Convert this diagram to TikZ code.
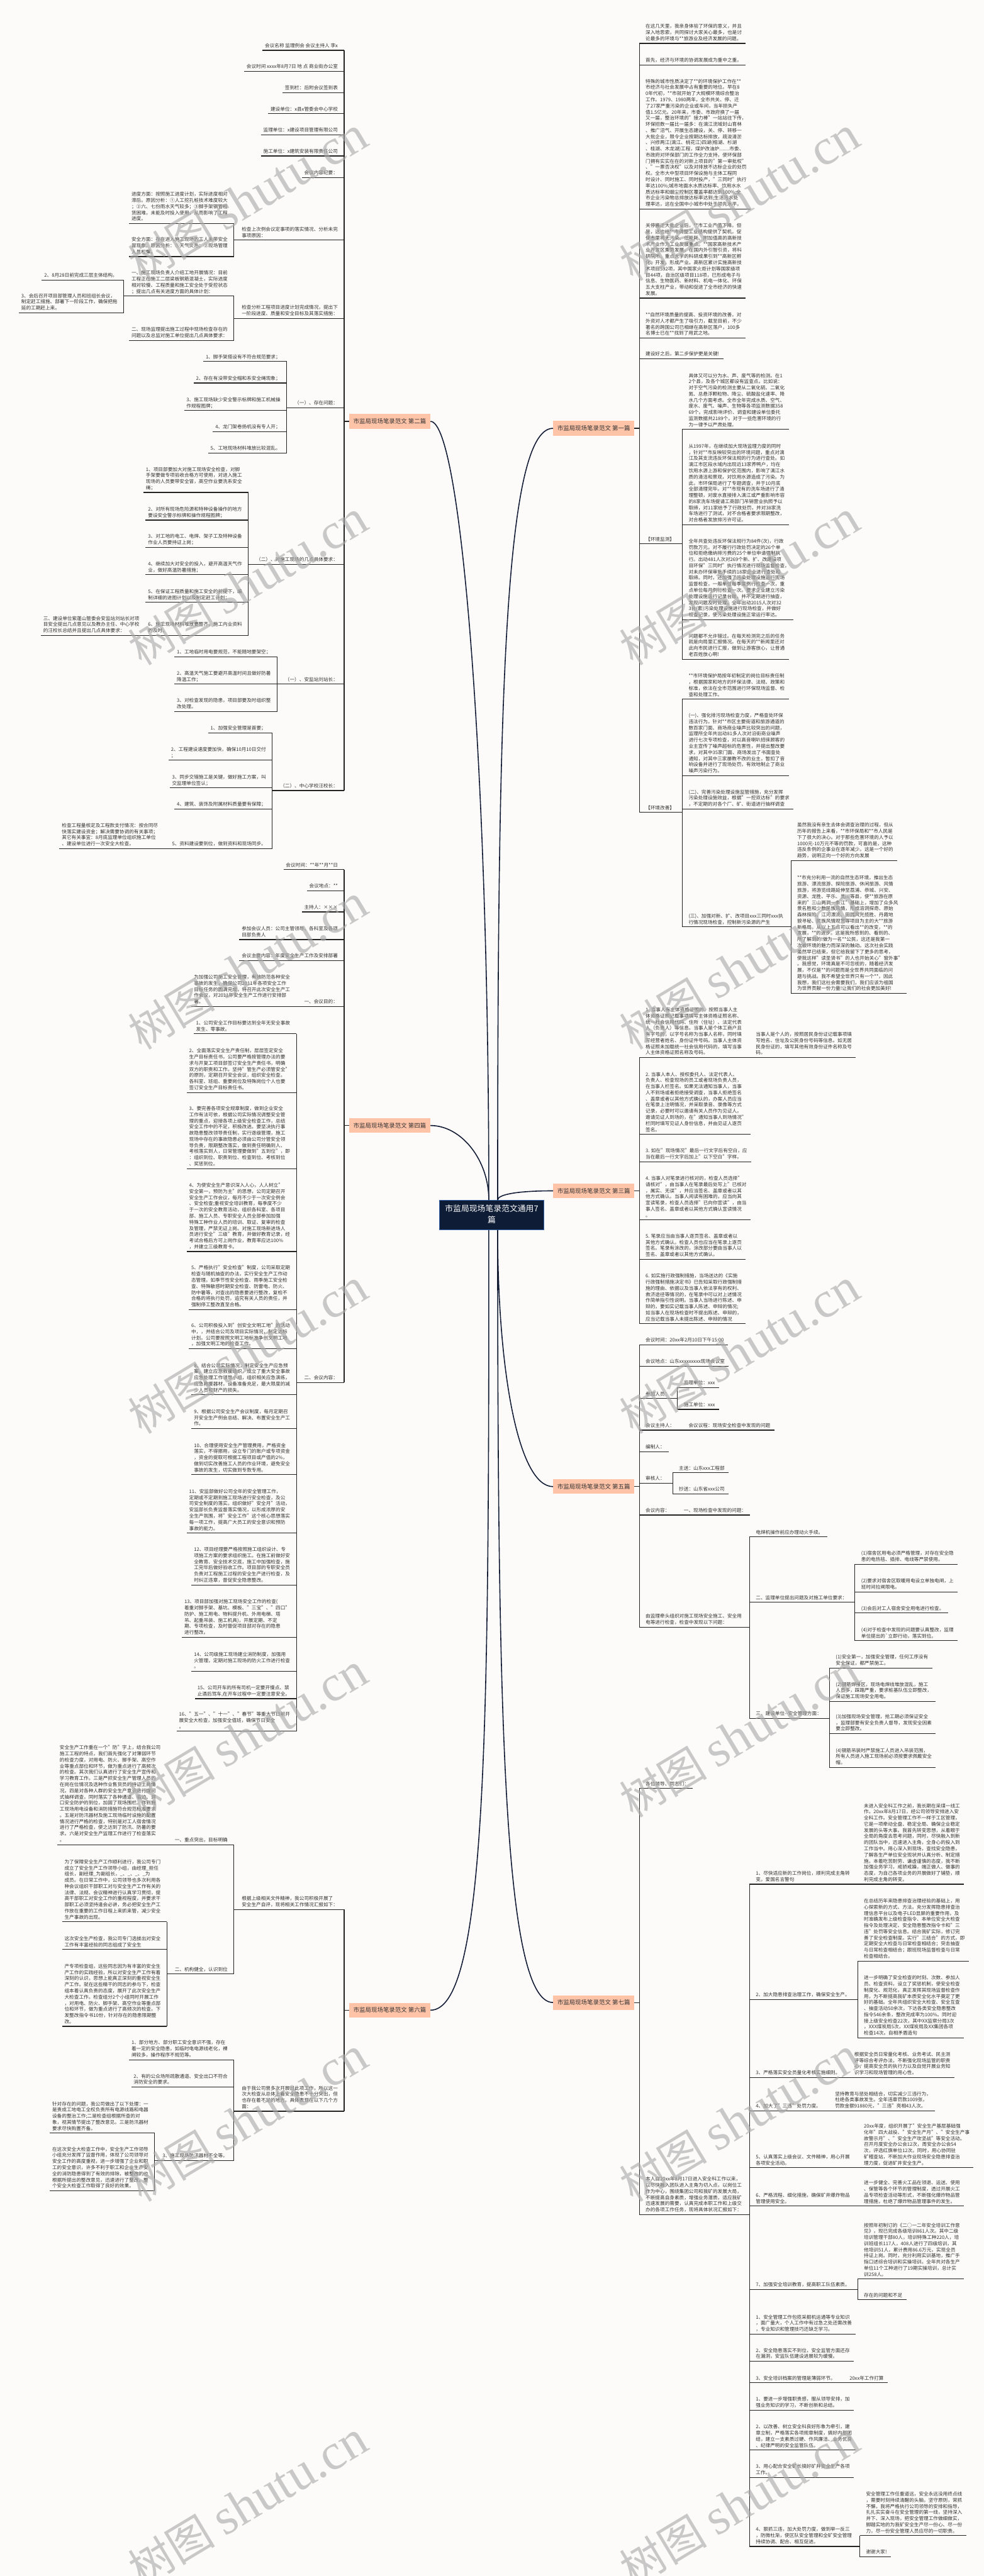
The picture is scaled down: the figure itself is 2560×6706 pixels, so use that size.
\documentclass[tikz,border=0pt]{standalone}
\usepackage{fontspec}
\setmainfont{Noto Sans CJK SC}
\newfontfamily\wmlatin{Liberation Serif}
\definecolor{bg}{RGB}{253,251,250}
\definecolor{ln}{RGB}{34,34,34}
\definecolor{txt}{RGB}{48,48,48}
\definecolor{peach}{RGB}{255,196,168}
\definecolor{brtxt}{RGB}{51,51,51}
\definecolor{cfill}{RGB}{14,28,54}
\definecolor{cborder}{RGB}{59,106,178}
\definecolor{cvc}{RGB}{18,28,52}
\definecolor{wmc}{RGB}{170,170,170}
\newcommand\mlt[1]{\begin{tabular}[b]{@{}l@{}}#1\end{tabular}}
\begin{document}
\begin{tikzpicture}[x=0.5pt,y=-0.5pt,
  ul/.style={draw=ln,line width=0.9pt},
  conn/.style={draw=ln,line width=0.9pt},
  lf/.style={font=\fontsize{6.25pt}{8pt}\selectfont,text=txt,inner xsep=0pt,inner ysep=1.2pt,
    append after command={(\tikzlastnode.south west) edge[ul] (\tikzlastnode.south east)}},
  lnode/.style={lf,anchor=south east,execute at begin node={\hspace*{3pt}},execute at end node={\hspace*{8pt}}},
  lpar/.style={lnode,execute at begin node={\hspace*{7pt}}},
  rnode/.style={lf,anchor=south west,execute at begin node={\hspace*{8pt}},execute at end node={\hspace*{5pt}}},
  rpar/.style={rnode,execute at end node={\hspace*{5pt}}},
  br/.style={fill=peach,text=brtxt,font=\fontsize{7.75pt}{9pt}\selectfont,minimum width=105.5pt,minimum height=19pt,inner sep=0pt},
  cen/.style={fill=cfill,draw=cborder,line width=1pt,text=white,font=\fontsize{10.5pt}{14.5pt}\selectfont,minimum width=135.5pt,minimum height=38pt,inner sep=0pt},
  cv/.style={draw=cvc,line width=1.3pt},
  wm/.style={text=wmc,rotate=31,opacity=0.62,inner sep=0pt}
]
\fill[bg] (0,0) rectangle (2560,6706);
\useasboundingbox (0,0) rectangle (2560,6706);

% ---------------- central
\node[cen] (c) at (1279.5,3163) {\begin{tabular}{@{}c@{}}市监局现场笔录范文通用7\\篇\end{tabular}};
\coordinate (ctl) at ([xshift=-3.75pt]c.north);
\coordinate (ctr) at ([xshift=7.75pt]c.north);
\coordinate (cbl) at ([xshift=-3.75pt]c.south);
\coordinate (cbr) at ([xshift=7.75pt]c.south);

% ---------------- 第二篇 (left)
\node[br] (b2) at (1014.3,1097) {市监局现场笔录范文 第二篇};
\coordinate (j2) at (895.5,1097);
\draw[conn] (b2.west) -- (j2);
\node[lnode] (n2a) at (895.5,131) {\mlt{会议名称 监理例会 会议主持人 李x}};
\node[lnode] (n2b) at (895.5,186) {\mlt{会议时间 xxxx年8月7日 地 点 商业街办公室}};
\node[lnode] (n2c) at (895.5,241) {\mlt{签到栏：后附会议签到表}};
\node[lnode] (n2d) at (895.5,296) {\mlt{建设单位：x县x管委会中心学校}};
\node[lnode] (n2e) at (895.5,351) {\mlt{监理单位：x建设项目管理有限公司}};
\node[lnode] (n2f) at (895.5,406) {\mlt{施工单位：x建筑安装有限责任公司}};
\node[lnode] (n2g) at (895.5,462) {\mlt{会议内容纪要：}};
\node[lpar] (n2h) at (895.5,625) {\mlt{检查上次例会议定事项的落实情况、分析未完\\事项原因：}};
\node[lnode] (n2h1) at (n2h.south west |- 0,582) {\mlt{进度方面：按照施工进度计划，实际进度相对\\滞后。原因分析：①人工挖孔桩技术难度较大\\；②六、七份雨水天气较多；③脚手架钢管租\\赁困难，未能及时投入使用，从而影响了工程\\进度。}};
\node[lnode] (n2h2) at (n2h.south west |- 0,668) {\mlt{安全方面：存在进入施工现场的工人未带安全\\冒现象。原因分析：①天气炎热；②现场管理\\人员松懈。}};
\node[lpar] (n2i) at (895.5,829) {\mlt{检查分析工程项目进度计划完成情况，提出下\\一阶段进度、质量和安全目标及其落实措施：}};
\node[lpar] (n2i1) at (n2i.south west |- 0,771) {\mlt{一、施工现场负责人介绍工地开展情况：目前\\工程正在施工二层梁板钢筋混凝土，实际进度\\相对较慢、工程质量和施工安全处于受控状态\\；提出几点有关进度方面的具体计划：}};
\node[lnode] (n2i1a) at (n2i1.south west |- 0,729) {\mlt{2、8月28日前完成三层主体结构。}};
\node[lnode] (n2i1b) at (n2i1.south west |- 0,814) {\mlt{3、会后召开项目部管理人员和班组长会议，\\制定赶工措施、部署下一阶段工作，确保把拖\\延的工期赶上来。}};
\node[lnode] (n2i2) at (n2i.south west |- 0,886) {\mlt{二、现场监理提出施工过程中现场检查存在的\\问题以及总监对施工单位提出几点具体要求：}};
\node[lpar] (n2j) at (895.5,1061) {\mlt{（一）、存在问题：}};
\node[lnode] (n2j1) at (n2j.south west |- 0,941) {\mlt{1、脚手架搭设有不符合规范要求；}};
\node[lnode] (n2j2) at (n2j.south west |- 0,997) {\mlt{2、存在有没带安全帽和系安全绳现象；}};
\node[lnode] (n2j3) at (n2j.south west |- 0,1069) {\mlt{3、施工现场缺少安全警示标牌和施工机械操\\作规程图牌；}};
\node[lnode] (n2j4) at (n2j.south west |- 0,1124) {\mlt{4、龙门架卷扬机没有专人开；}};
\node[lnode] (n2j5) at (n2j.south west |- 0,1179) {\mlt{5、工地现场材料堆放比较混乱。}};
\node[lpar] (n2k) at (895.5,1469) {\mlt{（二）、对施工现场的几点具体要求：}};
\node[lnode] (n2k1) at (n2k.south west |- 0,1282) {\mlt{1、项目部要加大对施工现场安全检查，对脚\\手架要做专项验收合格方可使用，对进入施工\\现场的人员要带安全冒，高空作业要洗系安全\\绳；}};
\node[lnode] (n2k2) at (n2k.south west |- 0,1354) {\mlt{2、对所有现场危险源和特种设备操作的地方\\要设安全警示标牌和操作规程图牌；}};
\node[lnode] (n2k3) at (n2k.south west |- 0,1425) {\mlt{3、对工地的电工、电焊、架子工及特种设备\\作业人员要持证上岗；}};
\node[lnode] (n2k4) at (n2k.south west |- 0,1496) {\mlt{4、继续加大对安全的投入，避开高温天气作\\业，做好高温防暑措施；}};
\node[lnode] (n2k5) at (n2k.south west |- 0,1568) {\mlt{5、在保证工程质量和施工安全的前提下，编\\制详细的进图计划以及制定赶工计划；}};
\node[lnode] (n2k6) at (n2k.south west |- 0,1654) {\mlt{6、施工现场材料堆放要整齐，施工内业资料\\的及时。}};
\node[lnode] (n2k6a) at (n2k6.south west |- 0,1654) {\mlt{三、建设单位紫蓬山管委会安监站刘站长对项\\目安全提出几点意见以及教办主任、中心学校\\的汪校长总结并且提出几点具体要求：}};
\node[lpar] (n2l) at (895.5,1781) {\mlt{（一）、安监站刘站长：}};
\node[lnode] (n2l1) at (n2l.south west |- 0,1710) {\mlt{1、工地临时用电要规范，不能随地要架空；}};
\node[lnode] (n2l2) at (n2l.south west |- 0,1781) {\mlt{2、高温天气施工要避开高温时间且做好防暑\\降温工作；}};
\node[lnode] (n2l3) at (n2l.south west |- 0,1852) {\mlt{3、对检查发现的隐患，项目部要及时组织整\\改处理。}};
\node[lpar] (n2m) at (895.5,2058) {\mlt{（二）、中心学校汪校长：}};
\node[lnode] (n2m1) at (n2m.south west |- 0,1908) {\mlt{1、加强安全管理是首要；}};
\node[lnode] (n2m2) at (n2m.south west |- 0,1979) {\mlt{2、工程建设速度要加快，确保10月10日交付\\；}};
\node[lnode] (n2m3) at (n2m.south west |- 0,2051) {\mlt{3、同步交错施工是关键，做好施工方案，叫\\交监理单位签认；}};
\node[lnode] (n2m4) at (n2m.south west |- 0,2106) {\mlt{4、建筑、装饰及附属材料质量要有保障；}};
\node[lpar] (n2m5) at (n2m.south west |- 0,2209) {\mlt{5、资料建设要到位，做到资料和现场同步。}};
\node[lnode] (n2m5a) at (n2m5.south west |- 0,2209) {\mlt{检查工程量核定及工程款支付情况：按合同尽\\快落实建设资金；解决需要协调的有关事项；\\其它有关事宜：8月底监理单位组织施工单位\\、建设单位进行一次安全大检查。}};
\foreach \n in {n2a,n2b,n2c,n2d,n2e,n2f,n2g,n2h,n2i,n2j,n2k,n2l,n2m} \draw[conn] (j2) |- (\n.south east);
\foreach \p/\q in {n2h/n2h1,n2h/n2h2,n2i/n2i1,n2i/n2i2,n2i1/n2i1a,n2i1/n2i1b,n2j/n2j1,n2j/n2j2,n2j/n2j3,n2j/n2j4,n2j/n2j5,n2k/n2k1,n2k/n2k2,n2k/n2k3,n2k/n2k4,n2k/n2k5,n2k/n2k6,n2k6/n2k6a,n2l/n2l1,n2l/n2l2,n2l/n2l3,n2m/n2m1,n2m/n2m2,n2m/n2m3,n2m/n2m4,n2m/n2m5,n2m5/n2m5a} \draw[conn] (\p.south west) |- (\q.south east);

% ---------------- 第一篇 (right)
\node[br] (b1) at (1545,1115) {市监局现场笔录范文 第一篇};
\coordinate (j1) at (1663.7,1115);
\draw[conn] (b1.east) -- (j1);
\node[rnode] (n1a) at (1663.7,113) {\mlt{在这几天里，我亲身体验了环保的意义，并且\\深入地思索，共同探讨大家关心最多，也是讨\\论最多的环境与**旅游业及经济发展的问题。}};
\node[rnode] (n1b) at (1663.7,169) {\mlt{首先，经济与环境的协调发展成为重中之重。}};
\node[rnode] (n1c) at (1663.7,544) {\mlt{特殊的城市性质决定了**的环境保护工作在**\\市经济与社会发展中占有重要的地位。早在8\\0年代初，**市就开始了大规模环境综合整治\\工作。1979、1980两年，全市共关、停、迁\\了27家严重污染的企业或车间，当年损失产\\值1.5亿元。20年来，市委、市政府换了一届\\又一届，整治环境的"接力棒"一站站往下传，\\环保招数一届比一届多：在漓江流域封山育林\\、推广沼气、开展生态建设，关、停、转移一\\大批企业，限令企业按期达标排放，疏浚清淤\\、兴修两江(漓江、桃花江)四湖(榕湖、杉湖\\、桂湖、木龙湖)工程，煤炉改油炉……市委、\\市政府对环保部门的工作全力支持，使环保部\\门拥有实实在在的对新上项目的"第一审批权"\\、"一票否决权"以及对排放不达标企业的处罚\\权。全市大中型项目环保设施与主体工程同\\时设计、同时施工、同时投产，"三同时"执行\\率达100\%;城市地面水水质达标率、饮用水水\\质达标率和烟尘控制区覆盖率都达到100\%;全\\市企业污染物总排放达标率达到;生活污水处\\理率达，这在全国中小城市中处于领先水平。}};
\node[rnode] (n1d) at (1663.7,776) {\mlt{关停搬迁大批企业后，**市工业产值下降。但\\是，这也给**市调整工业结构提供了契机，促\\使市里将无污染、低能耗、附加值高的高新技\\术产业作为工业发展重点。**国家高新技术产\\业开发区乘势发展，在国内外引智引资，将科\\研院所、重点大学的科研成果引到**高新区孵\\化、开发，形成产业。高新区累计实施高新技\\术项目592项，其中国家火炬计划等国家级项\\目44项，自治区级项目118项，已形成电子与\\信息、生物医药、新材料、机电一体化、环保\\五大支柱产业，带动和促进了全市经济的快速\\发展。}};
\node[rnode] (n1e) at (1663.7,880) {\mlt{**自然环境质量的提高、投资环境的改善，对\\外资对人才都产生了吸引力，截至目前，不少\\著名的跨国公司已相继在高新区落户，100多\\名博士已在**找到了用武之地。}};
\node[rnode] (n1f) at (1663.7,934) {\mlt{建设好之后，第二步保护更是关键!}};
\node[rpar] (n1g) at (1663.7,1416) {\mlt{【环境监测】}};
\node[rnode] (n1g1) at (n1g.south east |- 0,1118) {\mlt{具体又可以分为水、声、废气等的检测。在1\\2个县，及各个城区都设有监查点。比如说：\\对于空气污染的检测主要从二氧化硫、二氧化\\氮、总悬浮颗粒物、降尘、硫酸盐化速率、降\\水几个方面考虑。全市全年完成水质、空气、\\废水、废气、噪声、生物等各项监测数据358\\69个。完成影响评价、调查和建设单位委托\\监测数据共2189个。对于一些危害环境的行\\为一律予以严肃处理。}};
\node[rnode] (n1g2) at (n1g.south east |- 0,1366) {\mlt{从1997年，在继续加大现场监理力度的同时\\，针对**市反映较突出的环境问题，重点对漓\\江及其支流违反环保法规的行为进行查处。如\\漓江市区段水域内出现近13家养鸭户，均在\\饮用水源上游和保护区范围内，影响了漓江水\\质的清洁和景观，对饮用水源造成了污染。为\\此，市环保局进行了专题调查，并于10月底\\全部清理完毕。对**市现有的洗车场进行了清\\理整顿，对废水直接排入漓江或严重影响市容\\的8家洗车场提请工商部门吊销营业执照予以\\取缔，对11家给予了行政处罚，并对38家洗\\车场进行了测试，对不合格者要求限期整改，\\对合格者发放排污许可证。}};
\node[rnode] (n1g3) at (n1g.south east |- 0,1613) {\mlt{全年共查处违反环保法规行为84件(次)，行政\\罚款万元。对不履行行政处罚决定的26个单\\位和拒绝缴纳排污费的25个单位申请强制执\\行。出动481人次对269个新、扩、改建设项\\目环保"三同时"执行情况进行现场监督检查，\\对未办环保审批手续的18家企业进行查处和\\取缔。同时，还加强了污染处理设施运行现场\\监督检查，一般单位每季度例行检查一次，重\\点单位每月例行检查一次。要求企业建立污染\\处理设施运行记录台账，并不定期进行抽查，\\发现问题及时处理。全年出动2015人次对32\\3台(套)污染处理设施进行现场检查，并做好\\检查记录，使污染处理设施正常运行率达。}};
\node[rnode] (n1g4) at (n1g.south east |- 0,1716) {\mlt{问题都不允许错过。在每天检测完之后的任务\\就是向局里汇报情况。在每天的**新闻里还对\\此向市民进行汇报，做到让游客放心，让普通\\老百姓放心啊!}};
\node[rpar] (n1h) at (1663.7,2115) {\mlt{【环境改善】}};
\node[rnode] (n1h1) at (n1h.south east |- 0,1820) {\mlt{**市环境保护局按年初制定的岗位目标责任制\\，根据国家和地方的环保法律、法规、政策和\\标准，依法在全市范围进行环保现场监督、检\\查和处理工作。}};
\node[rnode] (n1h2) at (n1h.south east |- 0,2019) {\mlt{(一)、强化排污现场检查力度，严格查处环保\\违法行为。针对**市区主要街道和旅游通道的\\数百家门面、商场商业噪声比较突出的问题，\\监理所全年共出动81多人次对沿街商业噪声\\进行七次专项检查，对以高音喇叭招徕顾客的\\业主宣传了噪声超标的危害性，并提出整改要\\求，对其中35家门面、商场发出了书面查处\\通知，对其中三家屡教不改的业主，暂扣了音\\响设备并进行了现场处罚，有效地制止了商业\\噪声污染行为。}};
\node[rnode] (n1h3) at (n1h.south east |- 0,2106) {\mlt{(二)、完善污染处理设施监管措施，充分发挥\\污染处理设施效益，根据"一控双达标"的要求\\，不定期的对各个厂、矿、街道进行抽样调查}};
\node[rpar] (n1h4) at (n1h.south east |- 0,2413) {\mlt{(三)、加强对新、扩、改项目xxx三同时xxx执\\行情况现场检查，控制新污染源的产生}};
\node[rnode] (n1h4a) at (n1h4.south east |- 0,2240) {\mlt{虽然我没有亲生去体会调查治理的过程，但从\\历年的报告上来看，**市环保局和**市人民是\\下了很大的决心。对于那些危害环境的人予以\\1000元-10万元不等的罚款，可喜的是，这种\\违反条例的企事业在逐年减少。这是一个好的\\趋势，说明正向一个好的方向发展}};
\node[rnode] (n1h4b) at (n1h4.south east |- 0,2586) {\mlt{**市充分利用一流的自然生态环境，推出生态\\旅游、漂流旅游、探险旅游、休闲旅游、风情\\旅游，将游览线路延伸至荔浦、恭城、兴安、\\资源、龙胜、平乐、灵川等县，使**旅游在原\\来的"三山两洞一条江"基础上，增加了众多风\\景名胜和少数民族风情，形成溶洞探奇、原始\\森林探险、江河漂流、田园风光揽胜、丹霞地\\貌寻秘、民族风情观赏等项目为主的大**旅游\\新格局。从以上五点可以看出**的改变，**的\\发展，**的进步。这是我所感到的、看到的、\\所了解到的!做为一名**公民，这还是我第一\\次被环境的魅力而深深的触动。这次社会实践\\虽然早已结束，但它给我留下了更多的思考，\\使我这样"读圣贤书"的人也开始关心"窗外事"\\。我感觉，环境真是不可忽视的，随着经济发\\展，不仅是**的问题而是全世界共同面临的问\\题与挑战。我不希望全世界只有一个**，因此\\我想，我们这社会需要我们，我们应该为祖国\\为世界贡献一份力量!让我们的社会更加美好!}};
\foreach \n in {n1a,n1b,n1c,n1d,n1e,n1f,n1g,n1h} \draw[conn] (j1) |- (\n.south west);
\foreach \p/\q in {n1g/n1g1,n1g/n1g2,n1g/n1g3,n1g/n1g4,n1h/n1h1,n1h/n1h2,n1h/n1h3,n1h/n1h4,n1h4/n1h4a,n1h4/n1h4b} \draw[conn] (\p.south east) |- (\q.south west);

% ---------------- 第四篇 (left)
\node[br] (b4) at (1014.3,2930) {市监局现场笔录范文 第四篇};
\coordinate (j4) at (895.5,2930);
\draw[conn] (b4.west) -- (j4);
\node[lnode] (n4a) at (895.5,2264) {\mlt{会议时间：**年**月**日}};
\node[lnode] (n4b) at (895.5,2319) {\mlt{会议地点：**}};
\node[lnode] (n4c) at (895.5,2374) {\mlt{主持人：×××}};
\node[lnode] (n4d) at (895.5,2446) {\mlt{参加会议人员：公司主管领导、各科室及各项\\目部负责人}};
\node[lnode] (n4e) at (895.5,2501) {\mlt{会议主要内容：年度安全生产工作及安排部署}};
\node[lpar] (n4f) at (895.5,2620) {\mlt{一、会议目的：}};
\node[lnode] (n4f1) at (n4f.south west |- 0,2620) {\mlt{为加强公司施工安全管理，有效防范各种安全\\事故的发生，确保公司2011年各项安全工作\\目标任务的圆满完成，特召开此次安全生产工\\作会议，对2011年安全生产工作进行安排部\\署。}};
\node[lpar] (n4g) at (895.5,3599) {\mlt{二、会议内容：}};
\node[lnode] (m1) at (n4g.south west |- 0,2691) {\mlt{1、公司安全工作目标要达到全年无安全事故\\发生、零事故。}};
\node[lnode] (m2) at (n4g.south west |- 0,2844) {\mlt{2、全面落实安全生产责任制，层层签定安全\\生产目标责任书，公司要严格按管理办法的要\\求与开复工项目部签订安全生产责任书，明确\\双方的职责和工作。坚持"管生产必须管安全"\\的原则，定期召开安全会议，组织安全检查。\\各科室、班组、重要岗位及特殊岗位个人也要\\签订安全生产目标责任书。}};
\node[lnode] (m3) at (n4g.south west |- 0,3042) {\mlt{3、要完善各项安全规章制度，做到企业安全\\工作有法可依，根据公司实际情况调整安全管\\理的重点，迎接各项上级安全检查工作，总结\\安全工作中的不足，积极改进。要坚决执行事\\故隐患整改领导责任制，实行逐级管理，施工\\现场中存在的事故隐患必须由公司分管安全领\\导负责，限期整改落实，做到责任明确到人、\\考核落实到人，日常管理要做到"五到位"，即\\：组织到位、职责到位、检查到位、考核到位\\、奖惩到位。}};
\node[lnode] (m4) at (n4g.south west |- 0,3258) {\mlt{4、为使安全生产意识深入人心，人人树立"\\安全第一，预防为主"的思想，公司定期召开\\安全生产工作会议，每月不少于一次安全例会\\、安全检查;重视安全培训教育，每季度不少\\于一次的安全教育活动，组织各科室、各项目\\部、施工人员、专职安全人员全部参加加强\\特殊工种作业人员的培训、取证、复审的检查\\及管理，严禁无证上岗。对施工现场新进场人\\员进行安全"三级"教育，并做好教育记录，经\\考试合格后方可上岗作业，教育率应达100\%\\，并建立三级教育卡。}};
\node[lnode] (m5) at (n4g.south west |- 0,3409) {\mlt{5、严格执行"安全检查"制度，公司采取定期\\检查与随机抽查的办法，实行安全生产工作动\\态管理。如季节性安全检查、雨季施工安全检\\查、特殊敏感时期安全检查、防雷电、防火、\\防中暑等，对查出的隐患要进行整改，复检不\\合格的将执行处罚，追究有关人员的责任，并\\强制停工整改直至合格。}};
\node[lnode] (m6) at (n4g.south west |- 0,3511) {\mlt{6、公司积极投入到"创安全文明工地"的活动\\中，，并结合公司及项目实际情况，制定达标\\计划。公司要按照文明工地标准争创文明工地\\，加强文明工地的检查工作。}};
\node[lnode] (m8) at (n4g.south west |- 0,3631) {\mlt{8、结合公司实际情况，制定安全生产应急预\\案，建立应急救援组织，成立了重大安全事故\\应急处理工作领导小组，组织相关应急演练，\\应急救援器材，设备准备充足，最大限度的减\\少人员和财产的损失。}};
\node[lnode] (m9) at (n4g.south west |- 0,3719) {\mlt{9、根据公司安全生产会议制度，每月定期召\\开安全生产例会总结、解决、布置安全生产工\\作。}};
\node[lnode] (m10) at (n4g.south west |- 0,3839) {\mlt{10、合理使用安全生产管理费用，严格资金\\落实，不得挪用，设立专门的账户或专项资金\\，资金的提取可根据工程项目或产值的2\%，\\做到切实改善施工人员的作业环境，避免安全\\事故的发生，切实做到专款专用。}};
\node[lnode] (m11) at (n4g.south west |- 0,3991) {\mlt{11、安监部做好公司全年的安全管理工作，\\定期或不定期到施工现场进行安全检查，及公\\司安全制度的落实。组织做好"安全月"活动，\\安监部长负责监督落实情况，以形成浓厚的安\\全生产氛围，将"安全工作"这个核心思想落实\\每一项工作，提高广大员工的安全意识和预防\\事故的能力。}};
\node[lnode] (m12) at (n4g.south west |- 0,4126) {\mlt{12、项目经理要严格按照施工组织设计、专\\项施工方案的要求组织施工。在施工前做好安\\全教育、安全技术交底，施工中加强检查，施\\工完毕后做好验收工作。项目部的专职安全员\\负责对工程施工过程的安全生产进行检查，及\\时纠正违章，督促安全隐患整改。}};
\node[lnode] (m13) at (n4g.south west |- 0,4262) {\mlt{13、项目部加强对施工现场安全工作的检查(\\着重对脚手架、基坑、模板、"三宝"、"四口"\\防护、施工用电、物料提升机、外用电梯、塔\\吊、起重吊装、施工机具)，开展定期、不定\\期、专项检查，及时督促项目部对存在的隐患\\进行整改。}};
\node[lnode] (m14) at (n4g.south west |- 0,4351) {\mlt{14、公司级施工现场建立消防制度，加强用\\火管理，定期对施工现场的防火工作进行检查\\。}};
\node[lnode] (m15) at (n4g.south west |- 0,4422) {\mlt{15、公司开车的所有司机一定要开慢点、禁\\止酒后驾车,在开车过程中一定要注意安全。}};
\node[lnode] (m16) at (n4g.south west |- 0,4507) {\mlt{16、"五一"、"十一"、"春节"等重大节日前开\\展安全大检查，加强安全值班，确保节日安全\\。}};
\foreach \n in {n4a,n4b,n4c,n4d,n4e,n4f,n4g} \draw[conn] (j4) |- (\n.south east);
\foreach \p/\q in {n4f/n4f1,n4g/m1,n4g/m2,n4g/m3,n4g/m4,n4g/m5,n4g/m6,n4g/m8,n4g/m9,n4g/m10,n4g/m11,n4g/m12,n4g/m13,n4g/m14,n4g/m15,n4g/m16} \draw[conn] (\p.south west) |- (\q.south east);

% ---------------- 第三篇 (right)
\node[br] (b3) at (1545,3100) {市监局现场笔录范文 第三篇};
\coordinate (j3) at (1663.7,3100);
\draw[conn] (b3.east) -- (j3);
\node[rpar] (n3a) at (1663.7,2753) {\mlt{1. 当事人有主体资格证照的，按照当事人主\\体资格证照记载事项填写主体资格证照名称、\\统一社会信用代码、住所（住址）、法定代表\\人（负责人）等信息。当事人是个体工商户且\\有字号的，以字号名称为当事人名称，同时填\\写经营者姓名、身份证件号码。当事人主体资\\格证照未加载统一社会信用代码的，填写当事\\人主体资格证照名称及号码。}};
\node[rnode] (n3a1) at (n3a.south east |- 0,2753) {\mlt{当事人是个人的，按照居民身份证记载事项填\\写姓名、住址及公民身份号码等信息。如无居\\民身份证的，填写其他有效身份证件名称及号\\码。}};
\node[rnode] (n3b) at (1663.7,2953) {\mlt{2. 当事人本人、授权委托人、法定代表人、\\负责人、检查现场的员工或者现场负责人员，\\在当事人栏签名。如果无法通知当事人，当事\\人不到场或者拒绝接受调查，当事人拒绝签名\\、盖章或者以其他方式确认的，办案人员应当\\在笔录上注明情况，并采取录音、录像等方式\\记录，必要时可以邀请有关人员作为见证人。\\邀请见证人到场的，在"通知当事人到场情况"\\栏同时填写见证人身份信息，并由见证人逐页\\签名。}};
\node[rnode] (n3c) at (1663.7,3024) {\mlt{3. 如在"现场情况"最后一行文字后有空白，应\\当在最后一行文字后加上"以下空白"字样。}};
\node[rnode] (n3d) at (1663.7,3176) {\mlt{4. 当事人对笔录进行核对的，检查人员选择"\\请核对"，由当事人在笔录最后处写上"已核对\\，属实、无误"，并应当签名、盖章或者以其\\他方式确认。当事人阅读有困难的，应当向其\\宣读笔录，检查人员选择"已向你宣读"，由当\\事人签名、盖章或者以其他方式确认宣读情况\\。}};
\node[rnode] (n3e) at (1663.7,3278) {\mlt{5. 笔录应当由当事人逐页签名、盖章或者以\\其他方式确认。检查人员也应当在笔录上逐页\\签名。笔录有涂改的，涂改部分要由当事人以\\签名、盖章或者以其他方式确认。}};
\node[rnode] (n3f) at (1663.7,3446) {\mlt{6. 如实施行政强制措施，当场送达的《实施\\行政强制措施决定书》已告知采取行政强制措\\施的理由、依据以及当事人依法享有的权利、\\救济途径等情况的，在笔录中可以对上述情况\\作简单指引性说明。当事人当场进行陈述、申\\辩的，要如实记载当事人陈述、申辩的情况;\\如当事人在现场检查时不提出陈述、申辩的，\\应当记载当事人未提出陈述、申辩的情况}};
\foreach \n in {n3a,n3b,n3c,n3d,n3e,n3f} \draw[conn] (j3) |- (\n.south west);
\draw[conn] (n3a.south east) |- (n3a1.south west);

% ---------------- 第五篇 (right)
\node[br] (b5) at (1545,3870) {市监局现场笔录范文 第五篇};
\coordinate (j5) at (1663.7,3870);
\draw[conn] (b5.east) -- (j5);
\node[rnode] (n5a) at (1663.7,3501) {\mlt{会议时间：20xx年2月10日下午15:00}};
\node[rnode] (n5b) at (1663.7,3557) {\mlt{会议地点：山东xxxxxxxxx现场会议室}};
\node[rpar] (n5c) at (1663.7,3641) {\mlt{参加人员：}};
\node[rnode] (n5c1) at (n5c.south east |- 0,3612) {\mlt{监理单位：xxx}};
\node[rnode] (n5c2) at (n5c.south east |- 0,3669) {\mlt{施工单位：xxx}};
\node[rpar] (n5d) at (1663.7,3723) {\mlt{会议主持人：}};
\node[rnode] (n5d1) at (n5d.south east |- 0,3723) {\mlt{会议议程：现场安全检查中发现的问题}};
\node[rnode] (n5e) at (1663.7,3779) {\mlt{编制人：}};
\node[rpar] (n5f) at (1663.7,3861) {\mlt{审核人：}};
\node[rnode] (n5f1) at (n5f.south east |- 0,3834) {\mlt{主送：山东xxx工程部}};
\node[rnode] (n5f2) at (n5f.south east |- 0,3889) {\mlt{抄送：山东省xxx公司}};
\node[rpar] (n5g) at (1663.7,3944) {\mlt{会议内容：}};
\node[rnode] (n5g1) at (n5g.south east |- 0,3944) {\mlt{一、现场检查中发现的问题：}};
\node[rpar] (n5h) at (1663.7,4236) {\mlt{由监理牵头组织对施工现场安全施工、安全用\\电等进行检查，检查中发现以下问题：}};
\node[rnode] (n5h1) at (n5h.south east |- 0,4001) {\mlt{电焊机操作前应办理动火手续。}};
\node[rpar] (n5h2) at (n5h.south east |- 0,4171) {\mlt{二、监理单位提出问题及对施工单位要求：}};
\node[rnode] (n5h2a) at (n5h2.south east |- 0,4072) {\mlt{(1)宿舍区用电必须严格管理，对存在安全隐\\患的电热毯、插排、电线等严禁使用。}};
\node[rnode] (n5h2b) at (n5h2.south east |- 0,4144) {\mlt{(2)要求对宿舍区取暖用电设立单独电闸，上\\班时间拉闸限电。}};
\node[rnode] (n5h2c) at (n5h2.south east |- 0,4199) {\mlt{(3)会后对工人宿舍安全用电进行检查。}};
\node[rnode] (n5h2d) at (n5h2.south east |- 0,4271) {\mlt{(4)对于检查中发现的问题要认真整改，监理\\单位提出的\textasciigrave 立即行动，落实到位。}};
\node[rpar] (n5h3) at (n5h.south east |- 0,4473) {\mlt{三、建设单位{-}{-}安全管理方面：}};
\node[rnode] (n5h3a) at (n5h3.south east |- 0,4342) {\mlt{(1)安全第一，加强安全管理，任何工序没有\\安全保证，都严禁施工。}};
\node[rnode] (n5h3b) at (n5h3.south east |- 0,4429) {\mlt{(2)钢筋焊接区，现场电焊线堆放混乱，施工\\人员多，踩踏严重，要求桩基队伍立即整改，\\保证施工现场安全用电。}};
\node[rnode] (n5h3c) at (n5h3.south east |- 0,4513) {\mlt{(3)加强现场安全管理，抢工期必须保证安全\\，监理部要有安全负责人督导，发现安全因素\\要立即整改。}};
\node[rnode] (n5h3d) at (n5h3.south east |- 0,4601) {\mlt{(4)钢筋吊装时严禁施工人员进入吊装范围，\\所有人员进入施工现场前必须按要求佩戴安全\\帽。}};
\foreach \n in {n5a,n5b,n5c,n5d,n5e,n5f,n5g,n5h} \draw[conn] (j5) |- (\n.south west);
\foreach \p/\q in {n5c/n5c1,n5c/n5c2,n5d/n5d1,n5f/n5f1,n5f/n5f2,n5g/n5g1,n5h/n5h1,n5h/n5h2,n5h/n5h3,n5h2/n5h2a,n5h2/n5h2b,n5h2/n5h2c,n5h2/n5h2d,n5h3/n5h3a,n5h3/n5h3b,n5h3/n5h3c,n5h3/n5h3d} \draw[conn] (\p.south east) |- (\q.south west);

% ---------------- 第六篇 (left)
\node[br] (b6) at (1014.3,5233) {市监局现场笔录范文 第六篇};
\coordinate (j6) at (895.5,5233);
\draw[conn] (b6.west) -- (j6);
\node[lpar] (n6a) at (895.5,4971) {\mlt{根据上级相关文件精神，我公司积极开展了\\安全生产自评，现将相关工作情况汇报如下：}};
\node[lpar] (n6a1) at (n6a.south west |- 0,4802) {\mlt{一、重点突出，目标明确}};
\node[lnode] (n6a1a) at (n6a1.south west |- 0,4802) {\mlt{安全生产工作重在一个"防"字上，结合我公司\\施工工程的特点，我们首先强化了对薄弱环节\\的检查力度，对用电、防火、脚手架、高空作\\业等重点部位和环节，做为重点进行了高频次\\的检查。其次我们认真进行了安全生产宣传和\\学习教育工作。三是严抓安全生产管理人员的\\在岗在位情况及选种作业售货员的持证上岗情\\况。四是对各种人群的安全生产意识进行提问\\式抽样调查，同时落实了各种通道、临边、洞\\口安全防护的到位，加固了现场围栏。作到施\\工现场用电设备和消防措施符合规范标准要求\\。五是对防汛器材及施工现场临时设施的配置\\情况进行严格的检查，特别是对工人宿舍情况\\进行了严格检查，使之达到了防汛、防暑的要\\求。六是对安全生产监理工作进行了检查落实\\。}};
\node[lpar] (n6a2) at (n6a.south west |- 0,5139) {\mlt{二、机构健全，认识到位}};
\node[lnode] (n6a2a) at (n6a2.south west |- 0,5003) {\mlt{为了保障安全生产工作顺利进行，我公司专门\\成立了安全生产工作领导小组，由经理\_担任\\组长，副经理\_为副组长，\_、\_、\_、\_为\\成员。在日常工作中，公司领导也多次利用各\\种会议组织干部职工对与安全生产工作有关的\\法律、法规、会议精神进行认真学习贯彻，提\\高干部职工对安全工作的重视程度，并要求干\\部职工必须坚持逢会必讲，务必把安全生产工\\作放在重要的工作日程上来抓来管，减少安全\\生产事故的出现。}};
\node[lnode] (n6a2b) at (n6a2.south west |- 0,5075) {\mlt{这次安全生产检查，我公司专门选拔出对安全\\工作有丰富经验的同志组成了安全生}};
\node[lnode] (n6a2c) at (n6a2.south west |- 0,5275) {\mlt{产专项检查组，这些同志因为有丰富的安全生\\产工作的实践经验，所以对安全生产工作有着\\深刻的认识，思想上能真正深刻的重视安全生\\产工作。就在这些精干的同志的参与下，检查\\组本着认真负责的态度，展开了此次安全生产\\大检查工作。检查组分2个小组同时开展工作\\，对用电、防火、脚手架、高空作业等重点部\\位和环节，做为重点进行了高频次的检查。下\\发整改指令书10份，针对存在的隐患限期整\\改。}};
\node[lpar] (n6b) at (895.5,5496) {\mlt{由于我公司曾多次开展过此项工作，所以这一\\次大检查从总体上看安全隐患不十分突出，但\\也存在着不足的地方。具体表现在以下几个方\\面：}};
\node[lnode] (n6b1) at (n6b.south west |- 0,5362) {\mlt{1、部分地方、部分职工安全意识不强，存在\\着一定的安全隐患，如临时电电源线老化，裸\\闸较多，操作程序不规范等。}};
\node[lnode] (n6b2) at (n6b.south west |- 0,5433) {\mlt{2、有的公众场所疏散通道、安全出口不符合\\消防安全的要求。}};
\node[lpar] (n6b3) at (n6b.south west |- 0,5624) {\mlt{3、施工现场防汛器材不全等。}};
\node[lnode] (n6b3a) at (n6b3.south west |- 0,5553) {\mlt{针对存在的问题，我公司做出了以下处理：一\\是责成工地电工全权负责所有电源线路和电器\\设备的整治工作;二是检查组根据所查的对\\象，视其情节提出了整改意见。三是防汛器材\\要求尽快购置齐备。}};
\node[lnode] (n6b3b) at (n6b3.south west |- 0,5703) {\mlt{在这次安全大检查工作中，安全生产工作领导\\小组充分发挥了监督作用，体现了公司领导对\\安全工作的高度重视，进一步增强了企业和职\\工的安全意识，许多不利于职工和企业生产安\\全的消防隐患得到了有效的排除，被整改的也\\根据所提出的整改意见，迅速进行了整改。整\\个安全大检查工作取得了良好的效果。}};
\foreach \n in {n6a,n6b} \draw[conn] (j6) |- (\n.south east);
\foreach \p/\q in {n6a/n6a1,n6a/n6a2,n6a1/n6a1a,n6a2/n6a2a,n6a2/n6a2b,n6a2/n6a2c,n6b/n6b1,n6b/n6b2,n6b/n6b3,n6b3/n6b3a,n6b3/n6b3b} \draw[conn] (\p.south west) |- (\q.south east);

% ---------------- 第七篇 (right)
\node[br] (b7) at (1545,5213) {市监局现场笔录范文 第七篇};
\coordinate (j7) at (1663.7,5213);
\draw[conn] (b7.east) -- (j7);
\node[rnode] (n7a) at (1663.7,4656) {\mlt{各位领导、同志们：}};
\node[rpar] (n7b) at (1663.7,5765) {\mlt{本人自20xx年8月17日进入安全科工作以来，\\以尽快融入团队进入主角为切入点，以岗位工\\作为中心，围绕集团公司和我矿的发展大局，\\不断提高自身素质，增强业务潜质，适应我矿\\迅速发展的需要，认真完成本职工作和上级交\\办的各项工作任务，现将具体状况汇报如下：}};
\node[rpar] (k1) at (n7b.south east |- 0,4905) {\mlt{1、尽快适应新的工作岗位，顺利完成主角转\\变。爱国名言警句}};
\node[rnode] (k1a) at (k1.south east |- 0,4905) {\mlt{未进入安全科工作之前，我长期在采煤一线工\\作。20xx年8月17日，经公司领导安排进入安\\全科工作。安全管理工作不一样于工区管理，\\它是一项牵动全盘、稳定全局、确保企业稳定\\发展的头等大事。我首先转变思想，从着眼于\\全局的角度去思考问题，同时，尽快融入到新\\的团队当中，迅速进入主角，全身心的投入到\\工作当中。用心深入到现场，查找安全隐患，\\了解各生产单位安全现状并认真分析、制定措\\施。本着吃苦耐劳、谦虚谨慎的态度，我不断\\加强业务学习，戒骄戒躁，端正做人、做事的\\态度，为自己各项业务的开展做好了铺垫，顺\\利完成主角的转变。}};
\node[rpar] (k2) at (n7b.south east |- 0,5205) {\mlt{2、加大隐患排查治理工作，确保安全生产。}};
\node[rnode] (k2a) at (k2.south east |- 0,5105) {\mlt{在总结历年来隐患排查治理经验的基础上，用\\心探索新的方式、方法。充分发挥隐患排查治\\理信息平台以及电子LED显屏的重要作用，及\\时准确发布上级检查指令、本单位安全大检查\\指令及处理决定、安全隐患整改指令卡和"三\\违"处罚等安全信息。结合我矿实际，修订完\\善了安全检查制度。实行"三结合"的方式，即\\定期安全大检查与日常检查相结合；突击抽查\\与日常检查相结合；跟班现场监督检查与日常\\检查相结合。}};
\node[rnode] (k2b) at (k2.south east |- 0,5305) {\mlt{进一步明确了安全检查的时刻、次数、参加人\\员、检查资料，设立了奖惩机制，使安全检查\\制度化、规范化，真正发挥其现场监督检查作\\用，为不断提高我矿本质安全化水平奠定了更\\好的基础。全年共组织安全大检查、安全互查\\、抽查活动50余次，下达各类安全隐患整改\\指令546余条，整改完成率为100\%。同时迎\\接上级安全检查22次，其中XX监察分局3次\\，XXX煤炭局5次，XX煤炭局及XX集团各项\\检查14次。自相矛盾造句}};
\node[rpar] (k3) at (n7b.south east |- 0,5408) {\mlt{3、严格落实安全员量化考核实施细则。}};
\node[rnode] (k3a) at (k3.south east |- 0,5408) {\mlt{根据安全员日常量化考核、业务考试、民主测\\评等综合考评办法，不断强化现场监管的职责\\心，提高安全员的执行力以及自觉开展业务知\\识学习和现场管理的用心性。}};
\node[rpar] (k4) at (n7b.south east |- 0,5495) {\mlt{4、加大了"三违"处罚力度。}};
\node[rnode] (k4a) at (k4.south east |- 0,5495) {\mlt{坚持教育与惩处相结合，切实减少三违行为，\\杜绝各类事故发生。全年违章罚款1009张，\\罚款金额91880元，"三违"亮相43人次。}};
\node[rpar] (k5) at (n7b.south east |- 0,5643) {\mlt{5、认真落实上级会议、文件精神，用心开展\\各项安全活动。}};
\node[rnode] (k5a) at (k5.south east |- 0,5643) {\mlt{20xx年度，组织开展了"安全生产基层基础强\\化年"四大战役、"安全生产月"、"安全生产事\\故警示月"、"安全生产攻坚战"等安全活动。\\召开月度安全办公会12次，周安全办公会54\\次，评选红旗单位12次。同时，用心协同驻\\矿稽查站，不断加大作业现场安全隐患排查治\\理力度，促进矿井安全生产。}};
\node[rpar] (k6) at (n7b.south east |- 0,5743) {\mlt{6、严格流程、细化措施，确保矿井爆炸物品\\管理使用安全。}};
\node[rnode] (k6a) at (k6.south east |- 0,5743) {\mlt{进一步健全、完善火工品在领退、运送、使用\\、保管等各个环节的管理制度，透过开展火工\\品专项检查活动等形式，不断强化爆炸物品管\\理措施，杜绝了爆炸物品管理事件的发生。}};
\node[rpar] (k7) at (n7b.south east |- 0,5960) {\mlt{7、加强安全培训教育，提高职工队伍素质。}};
\node[rnode] (k7a) at (k7.south east |- 0,5933) {\mlt{按照年初制订的《二○一二年安全培训工作意\\见》，现已完成各级培训861人次。其中二级\\培训管理干部80人，培训特殊工种220人，培\\训班组长117人，408人进行了四级培训，其\\他培训51人，累计费用86.6万元，实现全员\\持证上岗。同时，充分利用实训基地，推广手\\指口述综合培训和实操培训。全年共对各生产\\单位11个工种进行了19期实操培训，总计实\\训258人。}};
\node[rnode] (k7b) at (k7.south east |- 0,5987) {\mlt{存在的问题和不足}};
\node[rnode] (k8) at (n7b.south east |- 0,6076) {\mlt{1、安全管理工作包揽采掘机运通等专业知识\\，面广量大，个人工作中有过急之处还需改善\\，专业知识和管理技巧还缺乏学习。}};
\node[rnode] (k9) at (n7b.south east |- 0,6147) {\mlt{2、安全隐患落实不到位，安全监管方面还存\\在漏洞，安监队伍建设进展较为缓慢。}};
\node[rpar] (k10) at (n7b.south east |- 0,6203) {\mlt{3、安全培训档案的管理是薄弱环节。}};
\node[rnode] (k10a) at (k10.south east |- 0,6203) {\mlt{20xx年工作打算}};
\node[rnode] (k11) at (n7b.south east |- 0,6274) {\mlt{1、要进一步增强职责感，服从领导安排，加\\强业务知识的学习，不断创新和总结。}};
\node[rnode] (k12) at (n7b.south east |- 0,6378) {\mlt{2、以改善、树立安全科良好形象为牵引，建\\章立制，严格落实各项规章制度，搞好内部团\\结，建立一支素质过硬、作风廉洁、业务优良\\、纪律严明的安全监管队伍。}};
\node[rnode] (k13) at (n7b.south east |- 0,6449) {\mlt{3、用心配合安全矿长搞好矿井安全生产各项\\工作。}};
\node[rpar] (k14) at (n7b.south east |- 0,6629) {\mlt{4、狠抓三违，加大处罚力度，做到举一反三\\，防微杜渐，使区队安全管理和全矿安全管理\\持续协调、配合、相互促进。}};
\node[rnode] (k14a) at (k14.south east |- 0,6601) {\mlt{安全管理工作任重道远，安全永远没用终点线\\，需要时刻持续清醒的头脑，坚守原则，常抓\\不懈，我将严格执行公司领导的安排和指导，\\扎扎实实奋斗在安全管理的第一线，坚持深入\\井下、深入现场，把安全管理工作做细做实，\\脚踏实地的为我矿安全生产尽一份心、尽一份\\力，尽一份安全管理人员应尽的一切职责。}};
\node[rnode] (k14b) at (k14.south east |- 0,6656) {\mlt{谢谢大家!}};
\foreach \n in {n7a,n7b} \draw[conn] (j7) |- (\n.south west);
\foreach \p/\q in {n7b/k1,n7b/k2,n7b/k3,n7b/k4,n7b/k5,n7b/k6,n7b/k7,n7b/k8,n7b/k9,n7b/k10,n7b/k11,n7b/k12,n7b/k13,n7b/k14,k1/k1a,k2/k2a,k2/k2b,k3/k3a,k4/k4a,k5/k5a,k6/k6a,k7/k7a,k7/k7b,k10/k10a,k14/k14a,k14/k14b} \draw[conn] (\p.south east) |- (\q.south west);

% ---------------- curves from the centre
\draw[cv] (b2.east) .. controls +(80,0) and +(0,-1130) .. (ctl);
\draw[cv] (b4.east) .. controls +(80,0) and +(0,-105) .. (ctl);
\draw[cv] (b1.west) .. controls +(-130,0) and +(0,-1250) .. (ctr);
\draw[cv] (b3.west) .. controls +(-90,0) and +(0,-15) .. (ctr);
\draw[cv] (b5.west) .. controls +(-90,0) and +(0,370) .. (cbr);
\draw[cv] (b7.west) .. controls +(-130,0) and +(0,1250) .. (cbr);
\draw[cv] (b6.east) .. controls +(150,0) and +(0,1250) .. (cbl);

% ---------------- watermark
\foreach \yy [count=\i] in {518,1518,2518,3518,4518,5518,6518} {
  \node[wm] (wl\i) at (645,\yy) {\fontsize{57pt}{60pt}\selectfont 树图 {\wmlatin\fontsize{66pt}{66pt}\selectfont shutu.cn}};
  \node[wm] (wr\i) at (1925,\yy) {\fontsize{57pt}{60pt}\selectfont 树图 {\wmlatin\fontsize{66pt}{66pt}\selectfont shutu.cn}};
}
\end{tikzpicture}
\end{document}
